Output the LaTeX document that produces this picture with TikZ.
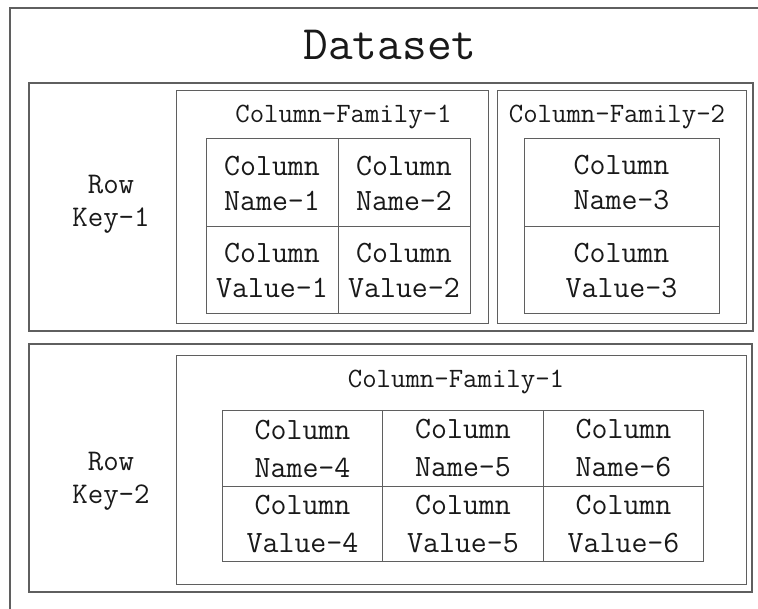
\documentclass[tikz,border=0pt]{standalone}
\usepackage{fontspec}
\usetikzlibrary{positioning}

\definecolor{linegray}{RGB}{95,95,95}
\definecolor{textgray}{RGB}{25,25,25}

\newcommand{\titlefont}{\ttfamily\fontsize{48}{56}\selectfont}
\newcommand{\familyfont}{\ttfamily\fontsize{28}{33}\selectfont}
\newcommand{\keyfont}{\ttfamily\fontsize{30}{33}\selectfont}
\newcommand{\cellfont}{\ttfamily\fontsize{31}{35}\selectfont}
\newcommand{\widecellfont}{\ttfamily\fontsize{31}{38}\selectfont}

\tikzstyle{recordbox} = [rectangle, 
draw=linegray, 
line width=1.2pt, 
inner sep=0pt, 
outer sep=0pt]
\tikzstyle{family} = [rectangle, 
draw=linegray, 
line width=1pt, 
inner sep=0pt, 
outer sep=0pt]
\tikzstyle{cellbox} = [rectangle, 
minimum width=132pt, 
minimum height=88pt, 
inner sep=0pt, 
outer sep=0pt, 
align=center, 
font=\cellfont, 
text=textgray, 
draw=linegray, line width=1pt]
\tikzstyle{widecell} = [cellbox, 
minimum width=160.5pt, 
minimum height=75.5pt, 
font=\widecellfont]
\tikzstyle{famtitle} = [anchor=base, inner sep=0pt, font=\familyfont, text=textgray]
\tikzstyle{keytext} = [align=center, inner sep=0pt, font=\keyfont, text=textgray]

\begin{document}
\begin{tikzpicture}[x=1pt, y=-1pt]
\clip (0,0) rectangle (758,609);

\node (dataset) [recordbox, anchor=north west, minimum width=800pt, minimum height=650pt] at (10,8) {};
\node (title) [famtitle, font=\titlefont] at (390,60) {Dataset};

% first row
\node (row1) [recordbox, minimum width=724pt, minimum height=248pt] at (391,207) {};
\node (key1) [keytext] at (111,204) {Row\\Key-1};

\node (cf11) [family, minimum width=312pt, minimum height=233pt] at (332,207.5) {};
\node (cf11title) [famtitle] at (343.5,123) {Column-Family-1};
\node (name1) [cellbox] at (272,183) {Column\\Name-1};
\node (name2) [cellbox, right=0pt of name1] {Column\\Name-2};
\node (value1) [cellbox, below=0pt of name1, minimum height=87pt] {Column\\Value-1};
\node (value2) [cellbox, below=0pt of name2, minimum height=87pt] {Column\\Value-2};

\node (cf12) [family, minimum width=249pt, minimum height=233pt] at (621.5,207.5) {};
\node (cf12title) [famtitle] at (617,123) {Column-Family-2};
\node (name3) [cellbox, minimum width=195pt] at (621.5,183) {Column\\Name-3};
\node (value3) [cellbox, below=0pt of name3, minimum width=195pt, minimum height=87pt] {Column\\Value-3};

% second row
\node (row2) [recordbox, minimum width=723pt, minimum height=248pt] at (390.5,468) {};
\node (key2) [keytext] at (111,481) {Row\\Key-2};

\node (cf21) [family, minimum width=570pt, minimum height=228pt] at (461,470) {};
\node (cf21title) [famtitle] at (456,388) {Column-Family-1};
\node (name4) [widecell] at (302.5,448.5) {Column\\Name-4};
\node (name5) [widecell, right=0pt of name4] {Column\\Name-5};
\node (name6) [widecell, right=0pt of name5] {Column\\Name-6};
\node (value4) [widecell, below=0pt of name4] {Column\\Value-4};
\node (value5) [widecell, below=0pt of name5] {Column\\Value-5};
\node (value6) [widecell, below=0pt of name6] {Column\\Value-6};
\end{tikzpicture}
\end{document}
